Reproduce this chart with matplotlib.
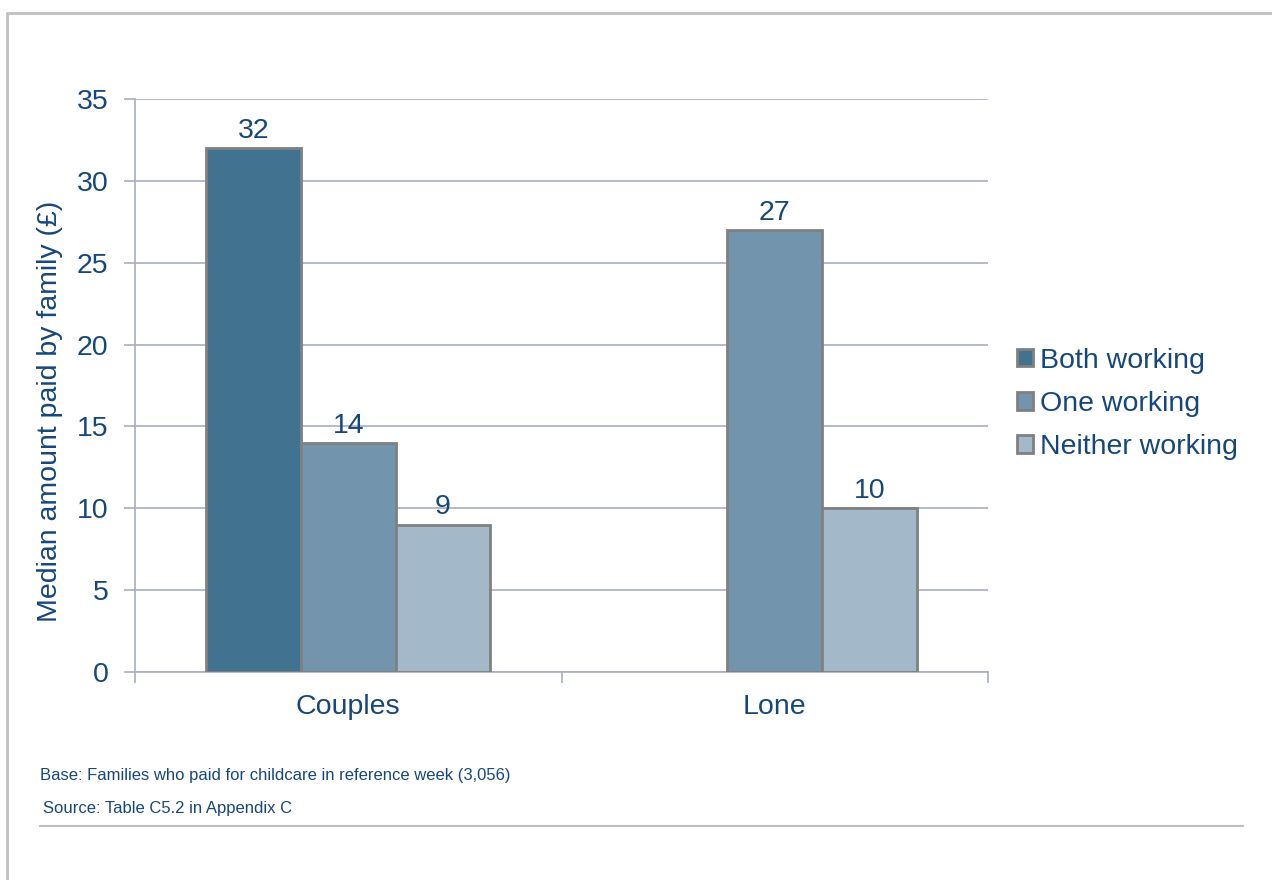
import matplotlib
matplotlib.use("Agg")
import matplotlib.pyplot as plt
from matplotlib.patches import Rectangle
from matplotlib.lines import Line2D

# ---- data ----
groups = ["Couples", "Lone"]
series = ["Both working", "One working", "Neither working"]
couples_values = [32, 14, 9]
lone_values = [None, 27, 10]
y_ticks = [0, 5, 10, 15, 20, 25, 30, 35]
y_label = "Median amount paid by family (£)"
note_base = "Base: Families who paid for childcare in reference week (3,056)"
note_source = "Source: Table C5.2 in Appendix C"

# ---- style ----
colors = ["#41728F", "#7295AD", "#A3B9C9"]
edge = "#808080"
text_c = "#16477A"
grid_c = "#A7AEC0"
frame_c = "#C0C0C0"
fs = 20.5
plt.rcParams['font.family'] = ['Liberation Sans', 'DejaVu Sans']

W, H = 1272, 880
fig = plt.figure(figsize=(W / 100, H / 100), dpi=100)
ax = fig.add_axes([135 / W, 1 - 672 / H, (988 - 135) / W, (672 - 99) / H])

bw = 0.2216
values_by_group = [couples_values, lone_values]
for gi, vals in enumerate(values_by_group):
    for si, v in enumerate(vals):
        if v is None:
            continue
        off = (si - 1) * bw
        ax.bar(gi + off, v, width=bw, color=colors[si],
               edgecolor=edge, linewidth=2, zorder=3)
        ax.annotate(str(v), (gi + off, v), xytext=(0, 3),
                    textcoords="offset points", ha="center", va="bottom",
                    fontsize=fs, color=text_c)

ax.set_xlim(-0.5, 1.5)
ax.set_ylim(0, 35)
ax.set_yticks(y_ticks)
ax.set_yticklabels([str(t) for t in y_ticks])
ax.set_xticks([0, 1])
ax.set_xticklabels(groups)
ax.set_xticks([-0.5, 0.5, 1.5], minor=True)
ax.tick_params(axis="x", which="major", length=0, pad=16, labelsize=fs, labelcolor=text_c)
ax.tick_params(axis="x", which="minor", length=8, width=1.2, color=grid_c)
ax.tick_params(axis="y", length=8, width=1.2, color=grid_c, pad=11, labelsize=fs, labelcolor=text_c)
ax.yaxis.grid(True, color=grid_c, linewidth=1.2, zorder=0)
ax.set_axisbelow(True)
for s in ["top", "right"]:
    ax.spines[s].set_visible(False)
for s in ["left", "bottom"]:
    ax.spines[s].set_color(grid_c)
    ax.spines[s].set_linewidth(1.2)

ax.set_ylabel(y_label, fontsize=fs, color=text_c)
ax.yaxis.set_label_coords((63 - 135) / (988 - 135), (672 - 411) / (672 - 99))

handles = [Rectangle((0, 0), 1, 1, facecolor=c, edgecolor=edge, linewidth=2) for c in colors]
fig.legend(handles, series, loc="center left", bbox_to_anchor=(1017 / W, 1 - 404 / H),
           frameon=False, fontsize=fs, labelcolor=text_c, handlelength=0.55,
           handleheight=0.55, handletextpad=0.25, labelspacing=0.6,
           borderpad=0, borderaxespad=0)

fig.text(40 / W, 1 - 775 / H, note_base, fontsize=12, color=text_c, va="center", ha="left")
fig.text(43 / W, 1 - 808 / H, note_source, fontsize=12, color=text_c, va="center", ha="left")

fig.add_artist(Line2D([40 / W, 1243 / W], [1 - 826 / H, 1 - 826 / H], color=frame_c, linewidth=1.5,
                      transform=fig.transFigure))
fig.add_artist(Line2D([7 / W, 7 / W, 1.0], [0, 1 - 13 / H, 1 - 13 / H], color=frame_c, linewidth=2,
                      transform=fig.transFigure))

fig.savefig("out.png", dpi=100)
